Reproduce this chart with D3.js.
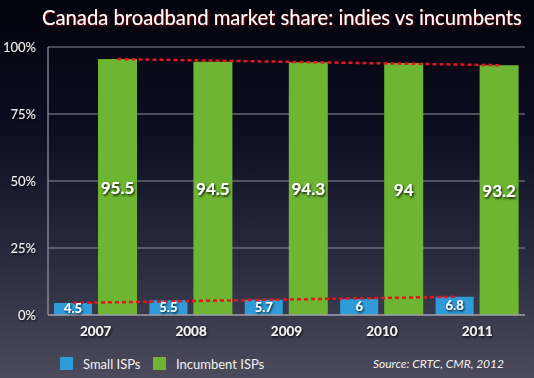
<!doctype html>
<html lang="en">
<head>
  <title>Canada broadband market share</title>
  <script src="https://d3js.org/d3.v7.min.js"></script>
  <style>
    body { margin: 0; background: #000; }
    svg { display: block; }
  </style>
</head>
<body>
  <div id="chart"></div>
  <script>
    // data
    var years = ["2007", "2008", "2009", "2010", "2011"];
    var smallISPs = [4.5, 5.5, 5.7, 6, 6.8];
    var incumbentISPs = [95.5, 94.5, 94.3, 94, 93.2];
    var yTicks = [0, 25, 50, 75, 100];
    var seriesNames = ["Small ISPs", "Incumbent ISPs"];
    var seriesColors = ["#2f9bd9", "#6db532"];

    var W = 534, H = 378;
    var margin = { top: 47, right: 9, bottom: 63, left: 48 };

    var svg = d3.select("#chart").append("svg")
        .attr("width", W)
        .attr("height", H);

    var defs = svg.append("defs");
    var grad = defs.append("linearGradient")
        .attr("id", "bg").attr("x1", 0).attr("y1", 0).attr("x2", 0).attr("y2", 1);
    grad.append("stop").attr("offset", "0%").attr("stop-color", "#02020c");
    grad.append("stop").attr("offset", "35%").attr("stop-color", "#0e0e22");
    grad.append("stop").attr("offset", "70%").attr("stop-color", "#2c2c40");
    grad.append("stop").attr("offset", "100%").attr("stop-color", "#4b4b5b");

    var sh = defs.append("filter").attr("id", "shadow")
        .attr("x", "-20%").attr("y", "-20%").attr("width", "140%").attr("height", "140%");
    sh.append("feDropShadow").attr("dx", 1).attr("dy", 1.5)
        .attr("stdDeviation", 0.8).attr("flood-color", "#000").attr("flood-opacity", 0.9);

    var glow = defs.append("filter").attr("id", "glow")
        .attr("x", "-5%").attr("y", "-20%").attr("width", "110%").attr("height", "140%");
    glow.append("feDropShadow").attr("dx", 1).attr("dy", 1)
        .attr("stdDeviation", 1.2).attr("flood-color", "#8a0d10").attr("flood-opacity", 1);

    svg.append("rect").attr("width", W).attr("height", H).attr("fill", "url(#bg)");

    var x = d3.scaleBand()
        .domain(years)
        .range([margin.left, W - margin.right]);

    var y = d3.scaleLinear()
        .domain([0, 100])
        .range([H - margin.bottom, margin.top]);

    // title, sized to fit the width it has in the picture
    var title = svg.append("text")
        .attr("x", 42).attr("y", 25)
        .attr("font-family", "Lato, sans-serif")
        .attr("font-size", 21.5)
        .attr("fill", "#fff")
        .attr("filter", "url(#glow)")
        .text("Canada broadband market share: indies vs incumbents");
    var tw = title.node().getComputedTextLength();
    if (tw > 0) title.attr("font-size", 21.5 * 480 / tw);

    // grid lines
    svg.append("g").selectAll("line")
        .data(yTicks.filter(function(d) { return d > 0; }))
        .enter().append("line")
        .attr("x1", margin.left).attr("x2", W - margin.right)
        .attr("y1", function(d) { return y(d); })
        .attr("y2", function(d) { return y(d); })
        .attr("stroke", "#8c8c96")
        .attr("stroke-width", 1.2);

    // y labels
    svg.append("g").selectAll("text")
        .data(yTicks)
        .enter().append("text")
        .attr("x", 36)
        .attr("y", function(d) { return y(d) + 5; })
        .attr("text-anchor", "end")
        .attr("font-family", "Lato, sans-serif")
        .attr("font-size", 13)
        .attr("fill", "#f2f2f2")
        .attr("filter", "url(#shadow)")
        .text(function(d) { return d + "%"; });

    var barW1 = 38, barW2 = 39;
    var off1 = 6, off2 = 50;

    // bars
    svg.append("g").selectAll("rect")
        .data(smallISPs)
        .enter().append("rect")
        .attr("x", function(d, i) { return x(years[i]) + off1; })
        .attr("y", function(d) { return y(d); })
        .attr("width", barW1)
        .attr("height", function(d) { return y(0) - y(d); })
        .attr("fill", seriesColors[0]);

    svg.append("g").selectAll("rect")
        .data(incumbentISPs)
        .enter().append("rect")
        .attr("x", function(d, i) { return x(years[i]) + off2; })
        .attr("y", function(d) { return y(d); })
        .attr("width", barW2)
        .attr("height", function(d) { return y(0) - y(d); })
        .attr("fill", seriesColors[1]);

    // axes lines
    svg.append("line")
        .attr("x1", margin.left).attr("x2", margin.left)
        .attr("y1", y(100)).attr("y2", y(0))
        .attr("stroke", "#9a9aa2").attr("stroke-width", 1.2);
    svg.append("line")
        .attr("x1", margin.left).attr("x2", W - margin.right)
        .attr("y1", y(0)).attr("y2", y(0))
        .attr("stroke", "#a0a0a8").attr("stroke-width", 1.5);

    // red dashed trend lines
    var last = years.length - 1;
    svg.append("line")
        .attr("x1", x(years[0]) + off2 + barW2 / 2).attr("y1", y(incumbentISPs[0]))
        .attr("x2", x(years[last]) + off2 + barW2 / 2).attr("y2", y(incumbentISPs[last]))
        .attr("stroke", "#e3161c").attr("stroke-width", 2.5)
        .attr("stroke-dasharray", "4,3");
    svg.append("line")
        .attr("x1", x(years[0]) + off1 + barW1 / 2).attr("y1", y(smallISPs[0]))
        .attr("x2", x(years[last]) + off1 + barW1 / 2).attr("y2", y(smallISPs[last]))
        .attr("stroke", "#e3161c").attr("stroke-width", 2.5)
        .attr("stroke-dasharray", "4,3");

    // value labels
    svg.append("g").selectAll("text")
        .data(incumbentISPs)
        .enter().append("text")
        .attr("x", function(d, i) { return x(years[i]) + off2 + barW2 / 2; })
        .attr("y", function(d) { return (y(d) + y(0)) / 2 + 6.5; })
        .attr("text-anchor", "middle")
        .attr("font-family", "Lato, sans-serif")
        .attr("font-weight", "bold")
        .attr("font-size", 17)
        .attr("fill", "#fff")
        .attr("filter", "url(#shadow)")
        .text(function(d) { return d; });

    svg.append("g").selectAll("text")
        .data(smallISPs)
        .enter().append("text")
        .attr("x", function(d, i) { return x(years[i]) + off1 + barW1 / 2; })
        .attr("y", function(d) { return (y(d) + y(0)) / 2 + 4.5; })
        .attr("text-anchor", "middle")
        .attr("font-family", "Lato, sans-serif")
        .attr("font-weight", "bold")
        .attr("font-size", 13)
        .attr("fill", "#fff")
        .attr("filter", "url(#shadow)")
        .text(function(d) { return d; });

    // year labels
    svg.append("g").selectAll("text")
        .data(years)
        .enter().append("text")
        .attr("x", function(d) { return x(d) + x.bandwidth() / 2; })
        .attr("y", y(0) + 21)
        .attr("text-anchor", "middle")
        .attr("font-family", "Lato, sans-serif")
        .attr("font-weight", "bold")
        .attr("font-size", 13.5)
        .attr("fill", "#f4f4f4")
        .attr("filter", "url(#shadow)")
        .text(function(d) { return d; });

    // legend
    var legendX = [60, 153];
    var lg = svg.append("g").selectAll("g")
        .data(seriesNames)
        .enter().append("g")
        .attr("transform", function(d, i) { return "translate(" + legendX[i] + ",357)"; });
    lg.append("rect")
        .attr("width", 13).attr("height", 13)
        .attr("fill", function(d, i) { return seriesColors[i]; });
    lg.append("text")
        .attr("x", 23).attr("y", 11.5)
        .attr("font-family", "Lato, sans-serif")
        .attr("font-size", 13)
        .attr("fill", "#f2f2f2")
        .text(function(d) { return d; });

    svg.append("text")
        .attr("x", 504).attr("y", 368)
        .attr("text-anchor", "end")
        .attr("font-family", "Lato, sans-serif")
        .attr("font-style", "italic")
        .attr("font-size", 12)
        .attr("fill", "#f2f2f2")
        .text("Source: CRTC, CMR, 2012");
  </script>
</body>
</html>
